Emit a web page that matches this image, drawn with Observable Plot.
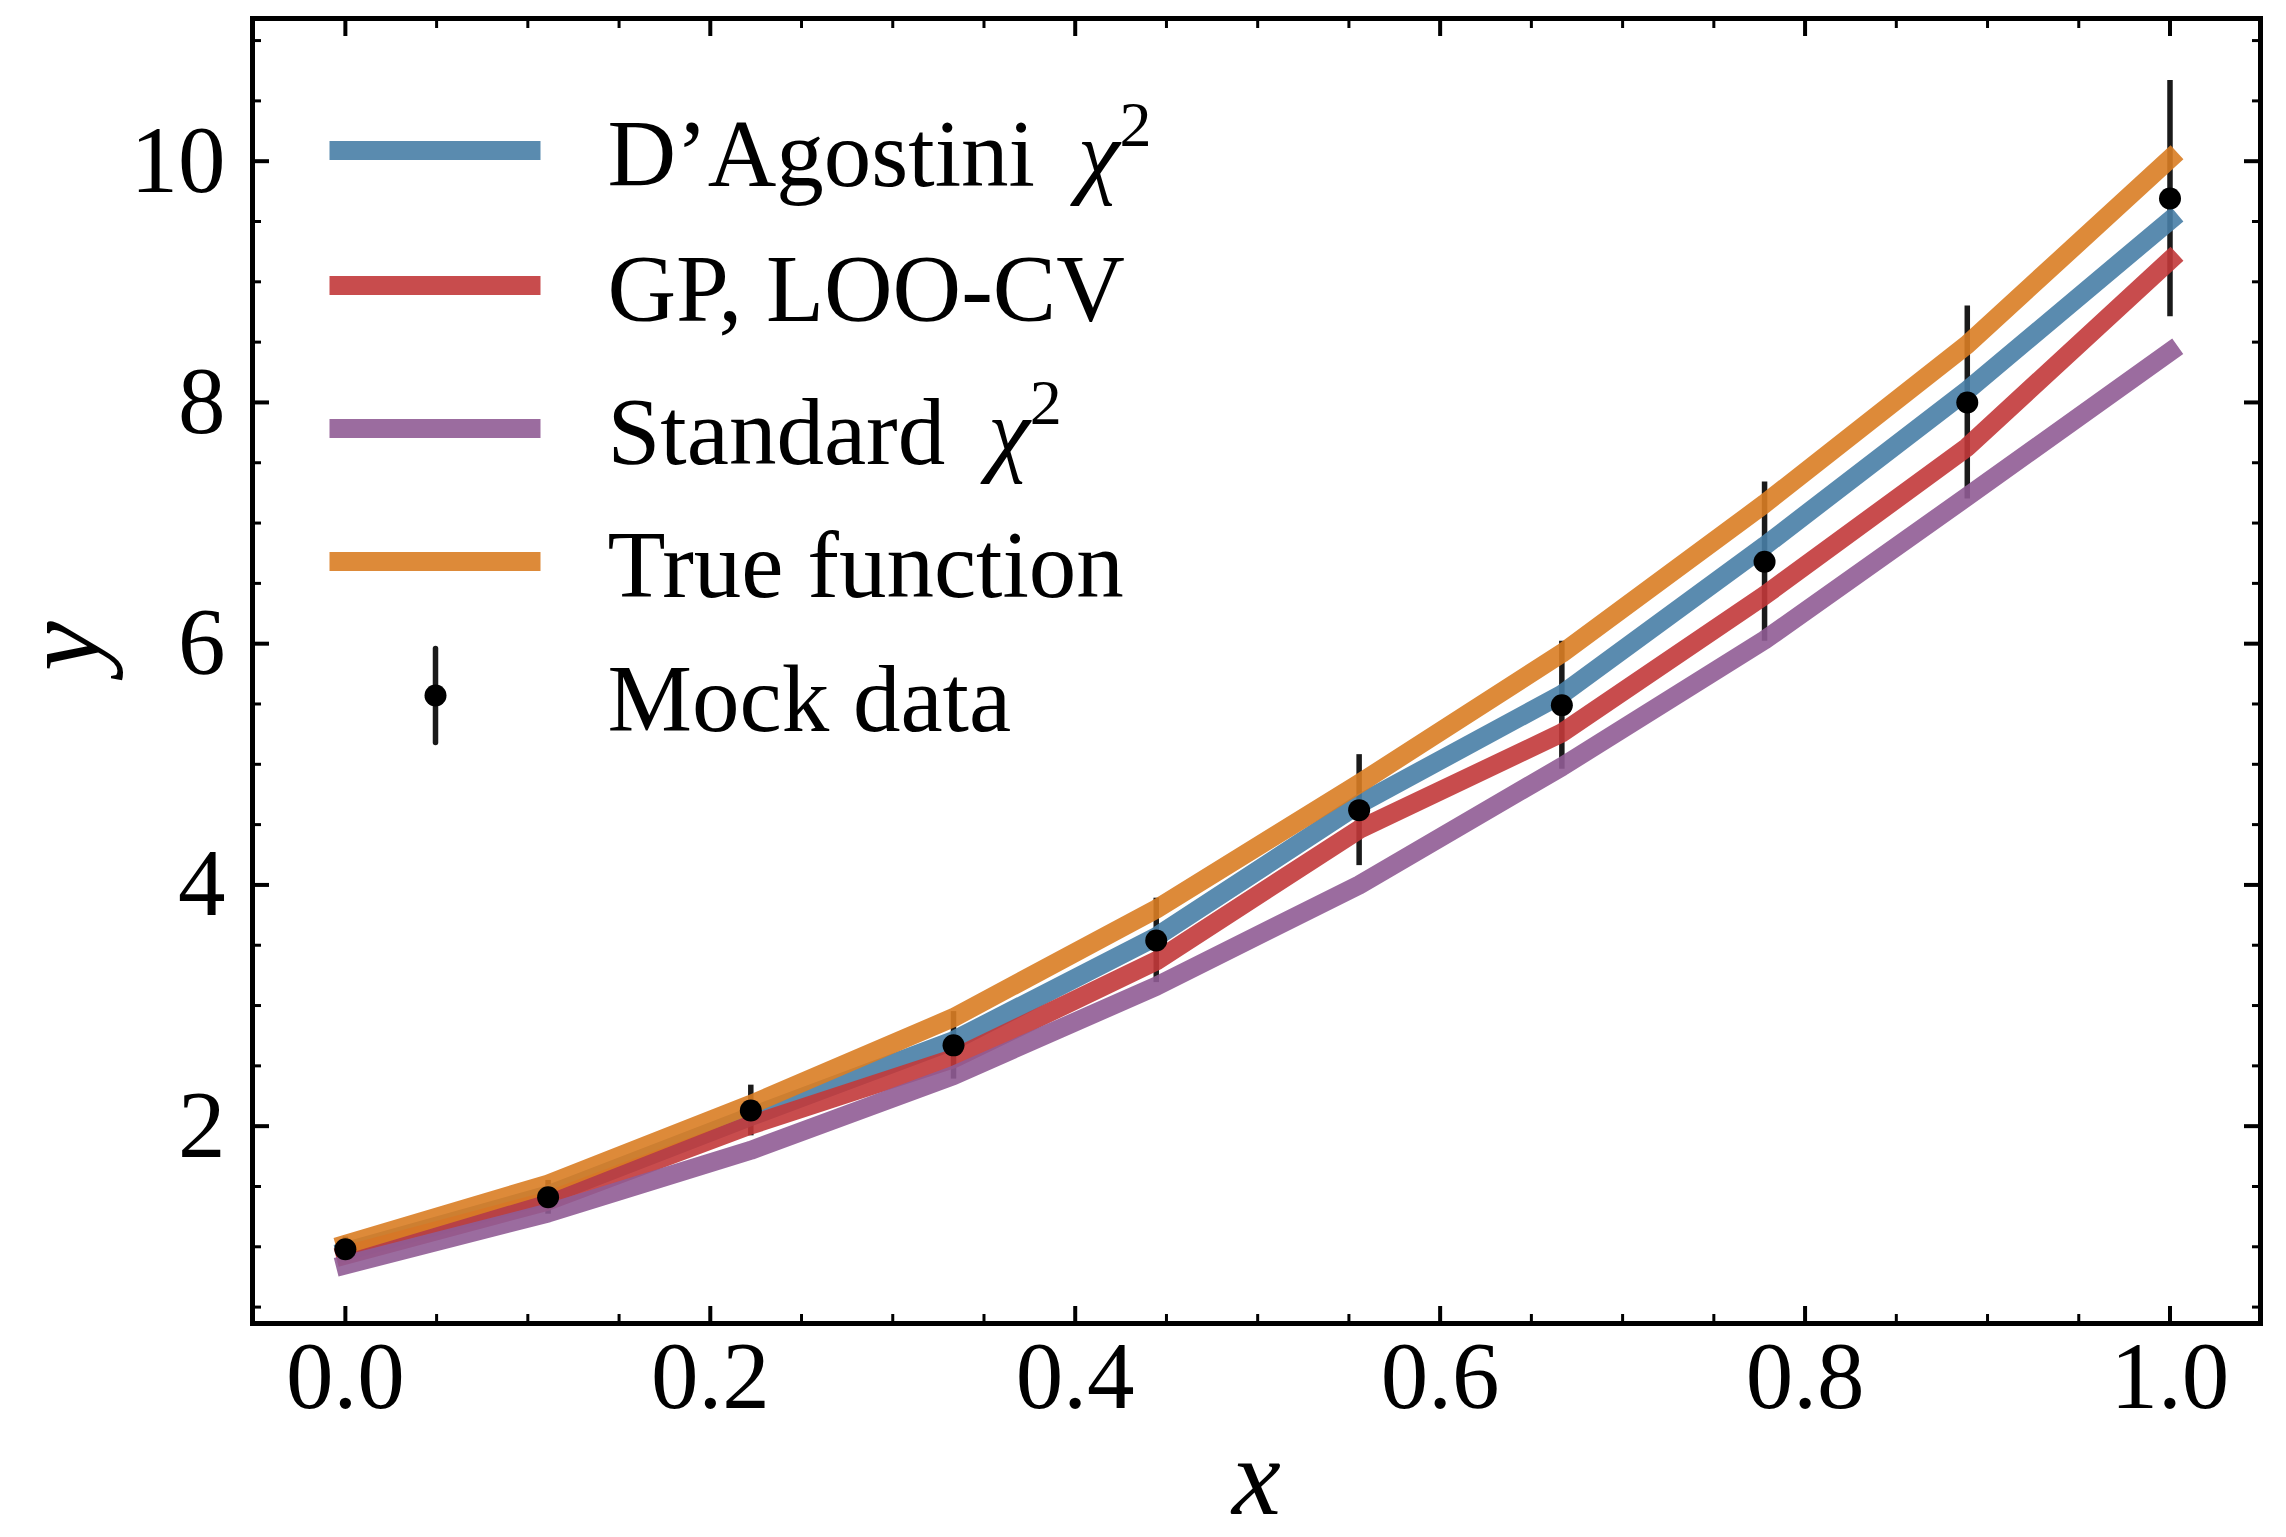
<!DOCTYPE html>
<html>
<head>
<meta charset="utf-8">
<script src="https://cdn.jsdelivr.net/npm/d3@7"></script>
<script src="https://cdn.jsdelivr.net/npm/@observablehq/plot@0.6"></script>
<style>
html, body { margin: 0; padding: 0; background: #ffffff; }
#chart { width: 2286px; height: 1537px; }
</style>
</head>
<body>
<div id="chart"></div>
<script>
// ---------- data ----------
const xs        = [0, 0.1111, 0.2222, 0.3333, 0.4444, 0.5556, 0.6667, 0.7778, 0.8889, 1.0];
const mockY     = [0.98, 1.41, 2.13, 2.67, 3.54, 4.62, 5.49, 6.68, 8.00, 9.69];
const mockErr   = [0.10, 0.14, 0.21, 0.28, 0.35, 0.46, 0.53, 0.66, 0.80, 0.98];
const dagY      = [0.96, 1.43, 2.08, 2.71, 3.57, 4.67, 5.58, 6.81, 8.10, 9.51];
const gpY       = [0.93, 1.38, 2.01, 2.56, 3.37, 4.46, 5.26, 6.40, 7.63, 9.18];
const stdY      = [0.85, 1.28, 1.80, 2.42, 3.16, 4.00, 4.98, 6.03, 7.22, 8.42];
const trueY     = [1.02, 1.52, 2.18, 2.90, 3.80, 4.84, 5.92, 7.16, 8.48, 10.02];

const seriesNames  = ["D’Agostini χ²", "GP, LOO-CV", "Standard χ²", "True function"];
const seriesValues = [dagY, gpY, stdY, trueY];
const seriesColors = ["#487ea6", "#c2383a", "#905c95", "#d97d24"];
const dataLabel    = "Mock data";

const xMajor = [0, 0.2, 0.4, 0.6, 0.8, 1.0];
const xMinor = [0.05, 0.1, 0.15, 0.25, 0.3, 0.35, 0.45, 0.5, 0.55, 0.65, 0.7, 0.75, 0.85, 0.9, 0.95];
const yMajor = [2, 4, 6, 8, 10];
const yMinor = [0.5, 1, 1.5, 2.5, 3, 3.5, 4.5, 5, 5.5, 6.5, 7, 7.5, 8.5, 9, 9.5, 10.5, 11];

// ---------- tables ----------
const mock = xs.map((x, i) => ({x, y: mockY[i], lo: mockY[i] - mockErr[i], hi: mockY[i] + mockErr[i]}));
const lineTables = seriesValues.map(vals => xs.map((x, i) => ({x, y: vals[i]})));

// ---------- styles ----------
const FONT = "'Liberation Serif', 'DejaVu Serif', serif";
const TICK_FS = 95;
const LW = 19;
const LINE_OP = 0.9;
const ERR_COLOR = "#1a1a1a";

const lineShape = {draw(ctx, l) { ctx.moveTo(0, 0); ctx.lineTo(0, -l); }};

// legend rows (offset from top of frame, px)
const rowDy = [132, 267, 410, 543, 677];

const legendMarks = [];
seriesNames.forEach((name, i) => {
  legendMarks.push(Plot.vector([0], {
    frameAnchor: "top-left", dx: 77, dy: rowDy[i], rotate: 90, length: 211, anchor: "start",
    shape: lineShape, stroke: seriesColors[i], strokeWidth: LW, strokeOpacity: LINE_OP, strokeLinecap: "butt"
  }));
  legendMarks.push(Plot.text([name], {
    frameAnchor: "top-left", dx: 355, dy: rowDy[i] + 35, lineAnchor: "bottom", textAnchor: "start",
    fontSize: TICK_FS, fontFamily: FONT, fill: "black"
  }));
});
legendMarks.push(Plot.vector([0], {
  frameAnchor: "top-left", dx: 183, dy: rowDy[4], length: 94, anchor: "middle",
  shape: lineShape, stroke: ERR_COLOR, strokeWidth: 5.5
}));
legendMarks.push(Plot.dot([0], {frameAnchor: "top-left", dx: 183, dy: rowDy[4], r: 11, fill: "black", stroke: "none"}));
legendMarks.push(Plot.text([dataLabel], {
  frameAnchor: "top-left", dx: 355, dy: rowDy[4] + 35, lineAnchor: "bottom", textAnchor: "start",
  fontSize: TICK_FS, fontFamily: FONT, fill: "black"
}));

const chart = Plot.plot({
  width: 2286,
  height: 1537,
  marginLeft: 252,
  marginRight: 26,
  marginTop: 18,
  marginBottom: 214,
  style: {background: "white", fontFamily: FONT, color: "black", overflow: "visible"},
  x: {domain: [-0.0509, 1.0496]},
  y: {domain: [0.364, 11.183]},
  marks: [
    Plot.ruleX(mock, {x: "x", y1: "lo", y2: "hi", stroke: ERR_COLOR, strokeWidth: 5.5}),
    ...lineTables.map((t, i) => Plot.line(t, {
      x: "x", y: "y", stroke: seriesColors[i], strokeWidth: LW, strokeOpacity: LINE_OP,
      strokeLinecap: "square", strokeLinejoin: "round"
    })),
    Plot.dot(mock, {x: "x", y: "y", r: 11, fill: "black", stroke: "none"}),
    Plot.frame({stroke: "black", strokeWidth: 5}),
    // bottom / top x axes
    Plot.axisX({anchor: "bottom", ticks: xMajor, tickSize: -17, tickPadding: 34, strokeWidth: 4,
      tickFormat: d3.format(".1f"), label: null, fontSize: TICK_FS, fontFamily: FONT}),
    Plot.axisX({anchor: "bottom", ticks: xMinor, tickSize: -9, strokeWidth: 3, fill: "none", label: null}),
    Plot.axisX({anchor: "top", ticks: xMajor, tickSize: -17, strokeWidth: 4, fill: "none", label: null}),
    Plot.axisX({anchor: "top", ticks: xMinor, tickSize: -9, strokeWidth: 3, fill: "none", label: null}),
    // left / right y axes
    Plot.axisY({anchor: "left", ticks: yMajor, tickSize: -17, tickPadding: 44, strokeWidth: 4,
      tickFormat: d3.format("d"), label: null, fontSize: TICK_FS, fontFamily: FONT}),
    Plot.axisY({anchor: "left", ticks: yMinor, tickSize: -9, strokeWidth: 3, fill: "none", label: null}),
    Plot.axisY({anchor: "right", ticks: yMajor, tickSize: -17, strokeWidth: 4, fill: "none", label: null}),
    Plot.axisY({anchor: "right", ticks: yMinor, tickSize: -9, strokeWidth: 3, fill: "none", label: null}),
    // axis titles
    Plot.text(["x"], {frameAnchor: "bottom", dy: 190, lineAnchor: "bottom", fontSize: 110,
      fontStyle: "italic", fontFamily: FONT, fill: "black"}),
    Plot.text(["y"], {frameAnchor: "left", dx: -154, rotate: -90, lineAnchor: "bottom", fontSize: 112,
      fontStyle: "italic", fontFamily: FONT, fill: "black"}),
    ...legendMarks
  ]
});

// italic chi with superscript 2 (kept as real text)
d3.select(chart).selectAll("text").each(function () {
  const t = this.textContent;
  if (t && t.includes("χ²")) {
    const base = t.replace(" χ²", "");
    const sel = d3.select(this);
    sel.text(null);
    sel.append("tspan").text(base + " \u2009");
    sel.append("tspan").attr("font-style", "italic").text("χ");
    sel.append("tspan").attr("font-size", 64).attr("dy", -40).text("2");
  }
});

document.getElementById("chart").appendChild(chart);
</script>
</body>
</html>
